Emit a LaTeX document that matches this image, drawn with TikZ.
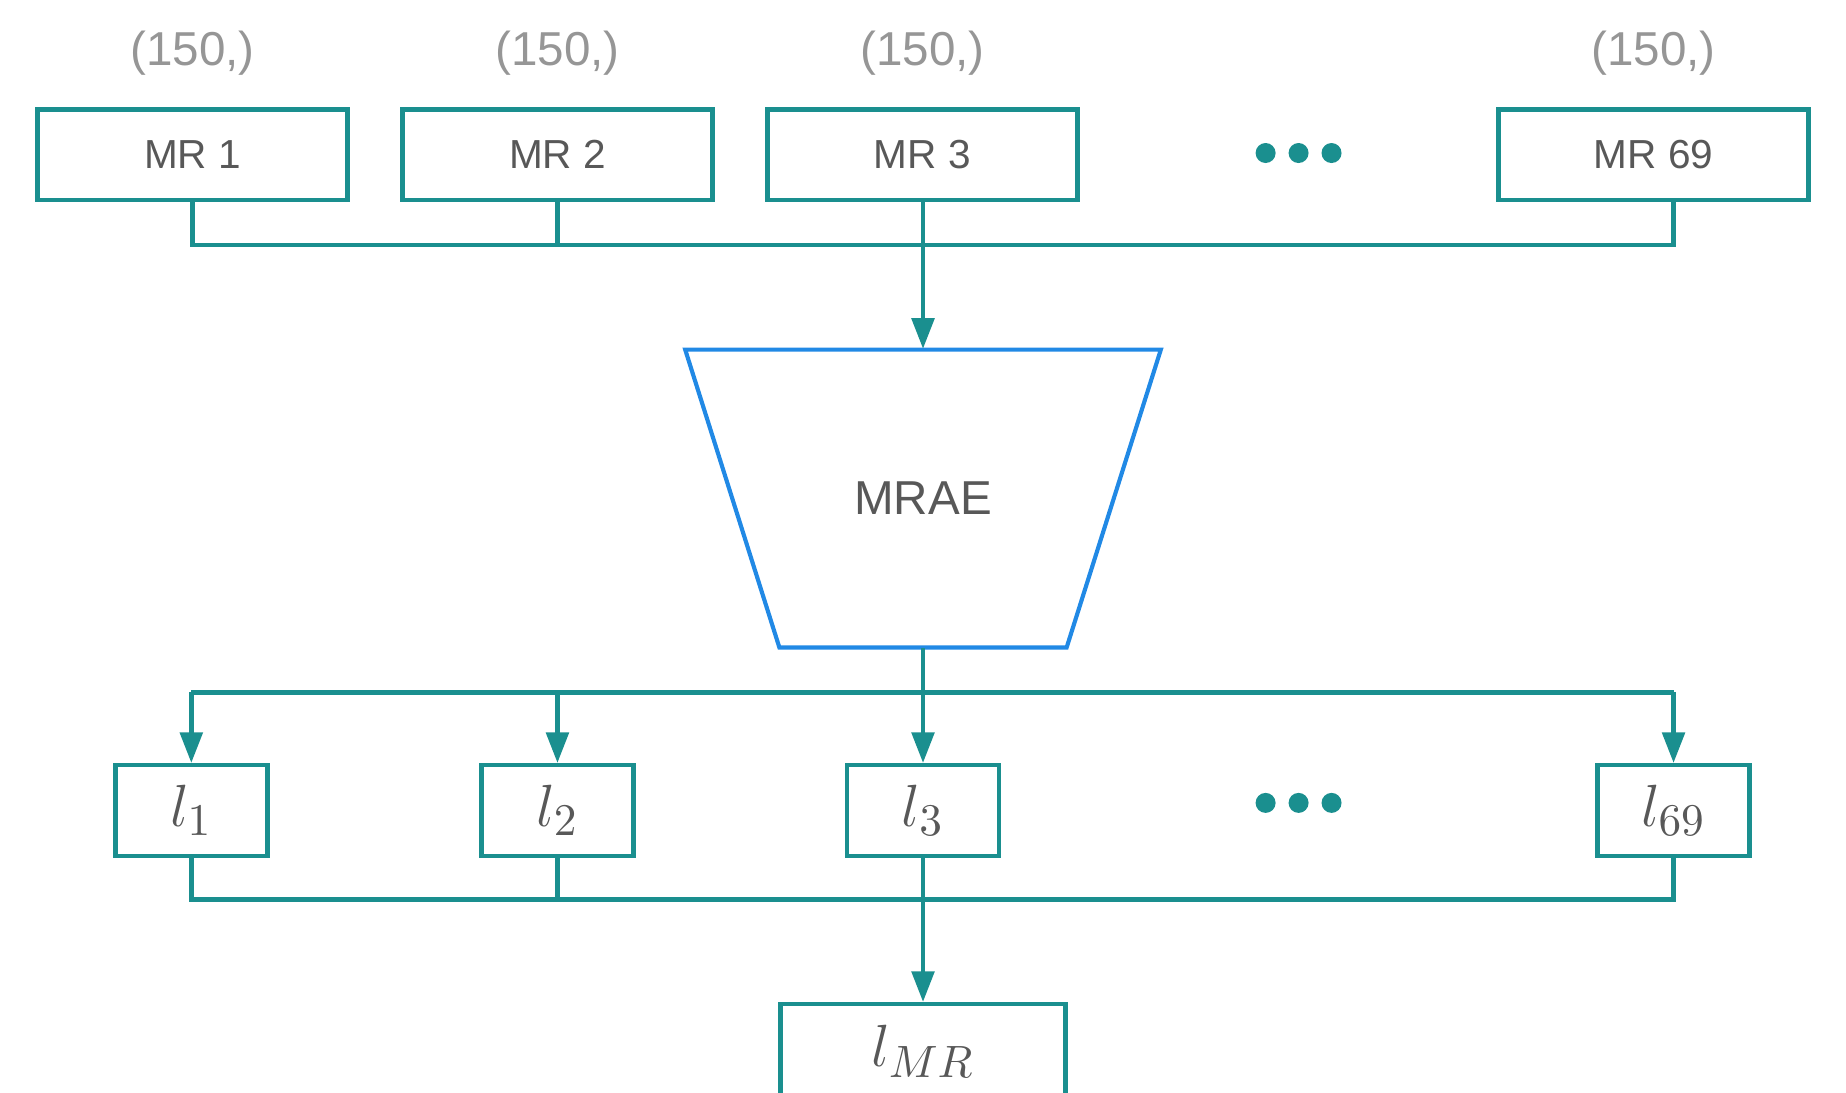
\documentclass[tikz,border=0pt]{standalone}
\usepackage[no-math]{fontspec}
\newfontfamily\boxfont{Liberation Sans}
\usetikzlibrary{arrows.meta}
\definecolor{mrteal}{RGB}{26,143,143}
\definecolor{mrblue}{RGB}{33,137,229}
\definecolor{txtgray}{RGB}{88,88,88}
\definecolor{dimgray}{RGB}{150,150,150}
\begin{document}
\begin{tikzpicture}[
  mrbox/.style={draw=mrteal,line width=1.1pt,minimum width=2.63cm,minimum height=0.77cm,inner sep=0pt,text=txtgray,font=\boxfont\fontsize{9.8}{11}\selectfont},
  lbox/.style={draw=mrteal,line width=1.1pt,minimum width=1.29cm,minimum height=0.77cm,inner sep=0pt,text=txtgray,font=\fontsize{15.5}{18}\selectfont},
  shapelabel/.style={text=dimgray,font=\boxfont\fontsize{11.5}{14}\selectfont},
  wire/.style={draw=mrteal,line width=1.1pt},
  feed/.style={wire,-{Triangle[length=2.6mm,width=1.9mm]}},
  dot/.style={circle,fill=mrteal,inner sep=0pt,minimum size=0.17cm}
]
\clip (0,0) rectangle (15.68,9.28);

\node[shapelabel] (s1) at (1.635,8.83) {(150,)};
\node[shapelabel] (s2) at (4.735,8.83) {(150,)};
\node[shapelabel] (s3) at (7.835,8.83) {(150,)};
\node[shapelabel] (s69) at (14.045,8.83) {(150,)};

\node[mrbox] (mr1) at (1.635,7.965) {MR 1};
\node[mrbox] (mr2) at (4.735,7.965) {MR 2};
\node[mrbox] (mr3) at (7.835,7.965) {MR 3};
\node[mrbox] (mr69) at (14.045,7.965) {MR 69};
\node[dot] (td1) at (10.75,7.98) {};
\node[dot] (td2) at (11.03,7.98) {};
\node[dot] (td3) at (11.31,7.98) {};

\draw[mrblue,line width=1pt] (5.82,6.31) -- (9.86,6.31) -- (9.06,3.78) -- (6.62,3.78) -- cycle;
\node[minimum height=2.53cm,inner sep=0pt,text=txtgray,font=\boxfont\fontsize{11.5}{14}\selectfont] (mrae) at (7.84,5.045) {MRAE};

\node[lbox] (l1) at (1.625,2.395) {$l_1$};
\node[lbox] (l2) at (4.735,2.395) {$l_2$};
\node[lbox] (l3) at (7.84,2.395) {$l_3$};
\node[lbox] (l69) at (14.215,2.395) {$l_{69}$};
\node[dot] (bd1) at (10.75,2.46) {};
\node[dot] (bd2) at (11.03,2.46) {};
\node[dot] (bd3) at (11.31,2.46) {};

\node[lbox,minimum width=2.42cm,minimum height=0.8cm] (lmr) at (7.84,0.35) {$l_{MR}$};

\coordinate (mrbus) at (0,7.20);
\coordinate (lbus) at (0,3.40);
\coordinate (sumbus) at (0,1.64);

\draw[wire] (mr1.south) |- (l69.north |- mrbus) -- (l69.north |- mr69.south);
\draw[wire] (mr2.south) -- (mr2.south |- mrbus);
\draw[feed] (mr3.south -| mrae.north) -- (mrae.north);

\draw[wire] (mrae.south) -- (mrae.south |- lbus);
\draw[wire] (l1.north |- lbus) -- (l69.north |- lbus);
\foreach \n in {l1,l2,l3,l69}
  \draw[feed] (\n.north |- lbus) -- (\n.north);

\draw[wire] (l1.south) |- (l69.south |- sumbus) -- (l69.south);
\draw[wire] (l2.south) -- (l2.south |- sumbus);
\draw[feed] (l3.south) -- (lmr.north);
\end{tikzpicture}
\end{document}
